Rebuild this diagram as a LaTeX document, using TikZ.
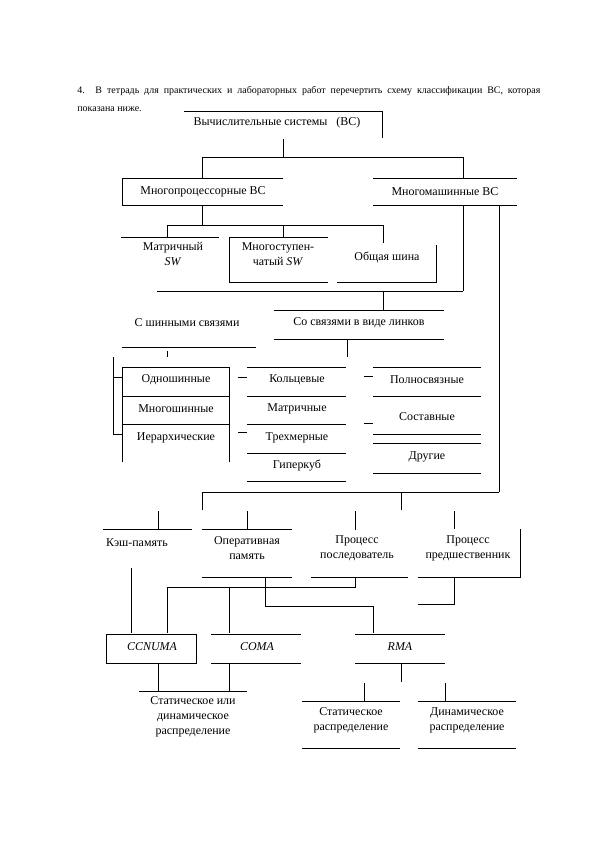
\documentclass[tikz,border=0pt]{standalone}
\usepackage{fontspec}
\setmainfont{Liberation Serif}
\usetikzlibrary{positioning}

\begin{document}
\begin{tikzpicture}[x=1bp, y=-1bp, line width=0.7bp,
  lbl/.style={font=\fontsize{12}{15}\selectfont, inner sep=0pt, align=center}]
\useasboundingbox[fill=white] (0,0) rectangle (595,842);
\node[anchor=north west, text width=463bp, align=justify, inner sep=0pt,
  font=\fontsize{10}{18}\selectfont] (task) at (77,86)
 {4. В тетрадь для практических и лабораторных работ перечертить схему классификации ВС, которая\linebreak показана ниже.};
% top level
\node[lbl] (vs) at (277,123) {Вычислительные системы\ \ \ (ВС)};
\draw (184,111) -- (382,111) -- (382,138);
\draw (283,139) -- (283,157) (202,157) -- (463,157)
      (202,157) -- (202,178) (463,157) -- (463,178);
\node[lbl] (mp) at (203,192) {Многопроцессорные ВС};
\draw (283,178) -- (122,178) -- (122,205) -- (283,205);
\node[lbl] (mm) at (445,192) {Многомашинные ВС};
\draw (373,178) -- (517,178) (373,205) -- (517,205);
% switches
\draw (202,205) -- (202,225) (167,225) -- (383,225)
      (167,225) -- (167,237) (283,225) -- (283,237) (383,225) -- (383,243);
\node[lbl] (msw) at (173,254) {Матричный\\\textit{SW}};
\draw (121,237) -- (219,237);
\node[lbl] (ssw) at (278,254) {Многоступен-\\чатый \textit{SW}};
\draw (328,237) -- (229,237) -- (229,282) -- (328,282);
\node[lbl] (bus) at (387,257) {Общая шина};
\draw (436,245) -- (436,282) -- (337,282);
% links
\draw (463,205) -- (463,291) (499,205) -- (499,492)
      (157,291) -- (463,291) (383,291) -- (383,310);
\node[lbl] (lnk) at (359,323) {Со связями в виде линков};
\draw (274,310) -- (444,310) (274,339) -- (444,339) (347,339) -- (347,357);
\node[lbl] (shn) at (187,323) {С шинными связями};
\draw (122,347) -- (256,347) (167,351) -- (167,357);
% bus column
\draw (113,357) -- (113,434) (113,377) -- (122,377) (113,434) -- (122,434);
\draw (122,462) -- (122,367) -- (229,367) -- (229,462)
      (122,396) -- (229,396) (122,424) -- (229,424);
\node[lbl] (b1) at (176,380) {Одношинные};
\node[lbl] (b2) at (176,409) {Многошинные};
\node[lbl] (b3) at (176,438) {Иерархические};
% link columns
\draw (238,377) -- (247,377) (238,432) -- (247,432)
      (364,376) -- (373,376) (364,423) -- (373,423);
\foreach \y in {367,396,424,453,481} \draw (247,\y) -- (346,\y);
\foreach \y in {367,396,434,443,473} \draw (373,\y) -- (481,\y);
\node[lbl] (l1) at (297,380) {Кольцевые};
\node[lbl] (l2) at (297,409) {Матричные};
\node[lbl] (l3) at (297,438) {Трехмерные};
\node[lbl] (l4) at (297,466) {Гиперкуб};
\node[lbl] (r1) at (427,380) {Полносвязные};
\node[lbl] (r2) at (427,417) {Составные};
\node[lbl] (r3) at (427,457) {Другие};
% memory
\draw (202,492) -- (499,492) (202,492) -- (202,510) (401,492) -- (401,510)
      (158,511) -- (158,529) (247,511) -- (247,529)
      (355,511) -- (355,530) (454,511) -- (454,529);
\node[lbl] (cache) at (137,543) {Кэш-память};
\draw (103,529) -- (192,529);
\node[lbl] (ram) at (247,548) {Оперативная\\память};
\draw (202,529) -- (292,529) (202,577) -- (292,577);
\node[lbl] (pfol) at (357,548) {Процесс\\последователь};
\draw (311,577) -- (408,577);
\node[lbl] (ppre) at (468,548) {Процесс\\предшественник};
\draw (520,529) -- (520,577) -- (418,577);
\draw (131,568) -- (131,633)
      (265,577) -- (265,606) -- (373,606) -- (373,633)
      (355,577) -- (355,587) -- (167,587) -- (167,633)
      (229,587) -- (229,633)
      (454,577) -- (454,604) -- (418,604);
% architectures
\node[lbl, font=\fontsize{12}{15}\selectfont\itshape] (cc) at (152,647) {CCNUMA};
\draw (106,634) rectangle (196,663);
\node[lbl, font=\fontsize{12}{15}\selectfont\itshape] (coma) at (257,647) {COMA};
\draw (211,634) -- (301,634) (211,663) -- (301,663);
\node[lbl, font=\fontsize{12}{15}\selectfont\itshape] (rma) at (400,647) {RMA};
\draw (355,634) -- (445,634) (355,663) -- (445,663);
% distribution
\draw (158,663) -- (158,691) (229,663) -- (229,691) (139,691) -- (247,691);
\node[lbl] (sd) at (193,717) {Статическое или\\динамическое\\распределение};
\draw (401,663) -- (401,682) (364,683) -- (364,701) (445,683) -- (445,701)
      (302,701) -- (400,701) (418,701) -- (516,701)
      (302,748) -- (400,748) (418,748) -- (516,748);
\node[lbl] (st) at (351,720) {Статическое\\распределение};
\node[lbl] (dn) at (467,720) {Динамическое\\распределение};
\end{tikzpicture}
\end{document}
